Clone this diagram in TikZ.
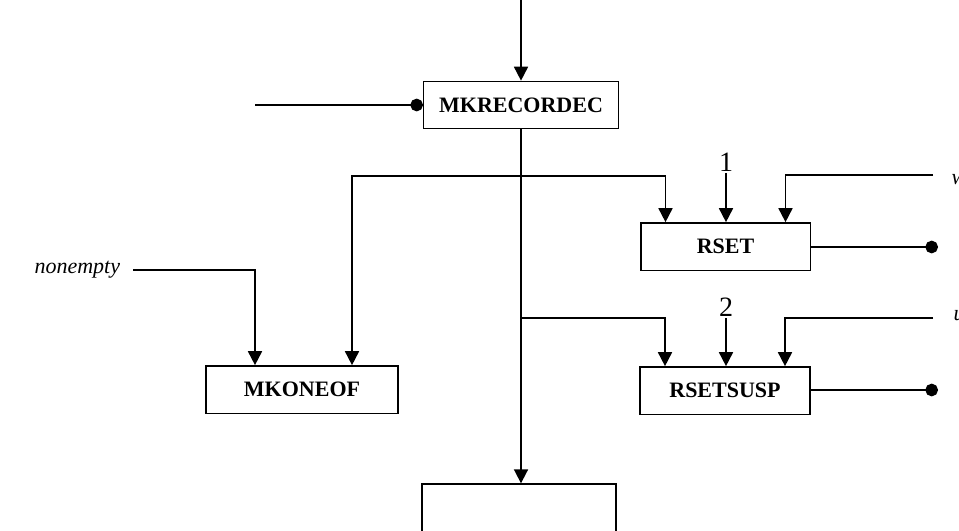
\documentclass[tikz,border=0pt]{standalone}
\usepackage{fontspec}
\setmainfont{Liberation Serif}
\usetikzlibrary{arrows.meta,calc}

\begin{document}
\begin{tikzpicture}[x=0.75pt, y=-0.75pt,
        hv/.style={to path={-| (\tikztotarget)}}]
        \useasboundingbox (0,0) rectangle (959,531);
        \clip (0,0) rectangle (959,531);
        \begin{scope}
            \tikzstyle{every node}=[fill=white, draw=black, rectangle, line width=1pt, text=black, font=\fontsize{16.5}{18}\selectfont\bfseries, minimum height=35.5pt]
            \node[minimum width=146pt] (mkrec) at (521,105) {MKRECORDEC};
            \node[minimum width=127pt] (rset) at (725.5,246.5) {RSET};
            \node[minimum width=127.5pt] (rsetsusp) at (725,390.5) {RSETSUSP};
            \node[minimum width=144pt] (mkoneof) at (302,389.5) {MKONEOF};
            \node[minimum width=145.5pt, minimum height=60pt] (temp) at (519,524) {};
        \end{scope}
        \begin{scope}
            \tikzstyle{every node}=[text=black, inner sep=1pt, font=\fontsize{16.5}{18}\selectfont\itshape]
            \node[font=\fontsize{21}{24}\selectfont] (one) at (726,162) {1};
            \node[font=\fontsize{21}{24}\selectfont] (two) at (726,307) {2};
            \node[anchor=east, inner xsep=9.5pt] (nonempty) at (133,270) {nonempty};
            \node[anchor=west] (w) at (950,180) {w};
            \node[anchor=west] (u) at (952,316) {u};
            \coordinate (top) at (521,0);
            \coordinate (lft) at (255,105);
            \coordinate (j1) at (521,176);
            \coordinate (j2) at (521,318);
            \coordinate (wend) at (933,175);
            \coordinate (uend) at (933,318);
            \coordinate (rsetout) at (938,247);
            \coordinate (susout) at (938,390);
        \end{scope}
        \begin{scope}
            \tikzstyle{every edge}=[draw, line width=1.3pt, -{Triangle[length=10.5pt,width=10.5pt]}]
            \path
            (top) edge[] (mkrec.north)
            (lft) edge[-{Circle[length=9.5pt]}] (mkrec.west)
            (mkrec.south) edge[] (mkrec.south |- temp.north)
            (j1) edge[hv] ($(mkoneof.north)+(50,0)$)
            (j1) edge[hv] ($(rset.north)+(-60,0)$)
            (j2) edge[hv] ($(rsetsusp.north)+(-60,0)$)
            (nonempty.east) edge[hv] ($(mkoneof.north)+(-47,0)$)
            (one.south) edge[] (one.south |- rset.north)
            (two.south) edge[] (two.south |- rsetsusp.north)
            (wend) edge[hv] ($(rset.north)+(60,0)$)
            (uend) edge[hv] ($(rsetsusp.north)+(60,0)$)
            (rset.east |- rsetout) edge[-{Circle[length=9.5pt]}] (rsetout)
            (rsetsusp.east |- susout) edge[-{Circle[length=9.5pt]}] (susout);
        \end{scope}
    \end{tikzpicture}
\end{document}
